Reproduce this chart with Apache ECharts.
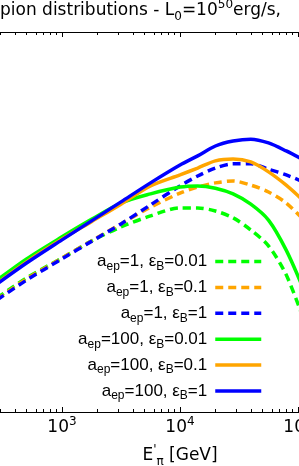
<!DOCTYPE html>
<html>
<head>
<meta charset="utf-8">
<script src="https://cdn.jsdelivr.net/npm/echarts@6/dist/echarts.min.js"></script>
<style>
html,body{margin:0;padding:0;background:#fff;}
#chart{width:299px;height:466px;}
</style>
</head>
<body>
<div id="chart"></div>
<script>
// Pion energy E'_pi [GeV]
const energy = [282, 501, 1000, 1778, 3162, 5623, 10000, 14125, 19953, 28184, 39811, 56234, 79433, 112202];
// Distributions (arbitrary log units)
const a1_eB001   = [3.00, 3.53, 4.05, 4.50, 4.87, 5.16, 5.37, 5.37, 5.29, 5.11, 4.79, 4.37, 3.61, 2.42];
const a1_eB01    = [2.97, 3.50, 4.05, 4.50, 4.95, 5.39, 5.76, 5.92, 6.03, 6.08, 5.97, 5.79, 5.50, 5.05];
const a1_eB1     = [2.95, 3.47, 4.03, 4.49, 4.95, 5.45, 5.95, 6.21, 6.42, 6.53, 6.53, 6.39, 6.24, 6.05];
const a100_eB001 = [3.47, 4.03, 4.61, 5.07, 5.50, 5.74, 5.92, 5.95, 5.89, 5.74, 5.47, 5.05, 4.26, 3.21];
const a100_eB01  = [3.39, 3.95, 4.55, 5.01, 5.47, 5.95, 6.24, 6.42, 6.61, 6.66, 6.58, 6.32, 5.97, 5.55];
const a100_eB1   = [3.37, 3.92, 4.53, 5.03, 5.53, 6.03, 6.50, 6.74, 7.00, 7.13, 7.18, 7.08, 6.87, 6.63];

const aepLabels = ['1', '1', '1', '100', '100', '100'];
const eBLabels  = ['0.01', '0.1', '1', '0.01', '0.1', '1'];
const seriesValues = [a1_eB001, a1_eB01, a1_eB1, a100_eB001, a100_eB01, a100_eB1];
const seriesColors = ['#00ff00', '#ffa500', '#0000ff', '#00ff00', '#ffa500', '#0000ff'];
const seriesDashed = [true, true, true, false, false, false];

const majorTicks = [1e2, 1e3, 1e4, 1e5, 1e6];
const minorTicks = [];
[1e2, 1e3, 1e4, 1e5].forEach(d => { for (let k = 2; k <= 9; k++) minorTicks.push(d * k); });

const titleText = '{t|pion distributions - L}{sb|0}{t|=10}{sp|50}{t|erg/s,}';

const chart = echarts.init(document.getElementById('chart'), null, {renderer: 'canvas'});

const names = aepLabels.map((a, i) => 'aep=' + a + ', eB=' + eBLabels[i]);

const series = seriesValues.map((vals, i) => ({
  name: names[i],
  type: 'line',
  xAxisIndex: 0,
  yAxisIndex: 0,
  symbol: 'none',
  smooth: 0.3,
  data: energy.map((e, j) => [e, vals[j]]),
  lineStyle: {color: seriesColors[i], width: 3.5, type: seriesDashed[i] ? [8, 5] : 'solid'},
  itemStyle: {color: seriesColors[i]},
  z: 2 + i,
  clip: true
}));

const axisBase = {
  type: 'log',
  logBase: 10,
  min: 1e2,
  max: 1e6,
  gridIndex: 0,
  splitLine: {show: false},
  minorTick: {show: false}
};

const F = {fontFamily: 'DejaVu Sans', color: '#000', fontWeight: 'normal'};
const labelRich = {
  b: Object.assign({}, F, {fontSize: 17, lineHeight: 24}),
  s: Object.assign({}, F, {fontSize: 12, lineHeight: 15, verticalAlign: 'top'})
};

const option = {
  animation: false,
  backgroundColor: '#fff',
  title: {
    text: titleText,
    left: 0,
    top: -1,
    padding: 0,
    textStyle: {
      fontWeight: 'normal',
      rich: {
        t: Object.assign({}, F, {fontSize: 17, lineHeight: 24}),
        sb: Object.assign({}, F, {fontSize: 12, lineHeight: 16, verticalAlign: 'bottom'}),
        sp: Object.assign({}, F, {fontSize: 12, lineHeight: 15, verticalAlign: 'top'})
      }
    }
  },
  legend: {
    orient: 'vertical',
    align: 'right',
    right: 36,
    top: 253,
    padding: 0,
    itemWidth: 46,
    itemHeight: 14,
    itemGap: 6.4,
    data: names,
    selectedMode: false,
    lineStyle: {width: 3.5},
    itemStyle: {opacity: 0},
    formatter: function (name) {
      const i = names.indexOf(name);
      return '{m|a}{s|ep}{m|=' + aepLabels[i] + ', ε}{s|B}{m|=' + eBLabels[i] + '}';
    },
    textStyle: {
      padding: [0, 3, 0, 0],
      rich: {
        m: {fontFamily: 'Liberation Sans', fontSize: 17, color: '#000', lineHeight: 22},
        s: {fontFamily: 'Liberation Sans', fontSize: 12, color: '#000', lineHeight: 14, verticalAlign: 'bottom'}
      }
    }
  },
  grid: {
    left: -56,
    right: -117,
    top: 32,
    bottom: 54,
    containLabel: false,
    outerBoundsMode: 'none'
  },
  xAxis: [
    Object.assign({}, axisBase, {
      position: 'bottom',
      axisLine: {show: true, onZero: false, lineStyle: {color: '#000', width: 1}},
      axisTick: {show: true, inside: true, length: 5, customValues: majorTicks, lineStyle: {color: '#000', width: 1}},
      axisLabel: {
        show: true, margin: 4, verticalAlign: 'top', customValues: majorTicks,
        formatter: function (v) { return '{b|10}{s|' + Math.round(Math.log10(v)) + '}'; },
        rich: labelRich
      },
      name: '{n|E}{p|\'}{q|π}{n| [GeV]}',
      nameLocation: 'middle',
      nameGap: 32,
      nameMoveOverlap: false,
      nameTextStyle: {
        rich: {
          n: Object.assign({}, F, {fontSize: 17, lineHeight: 24}),
          p: Object.assign({}, F, {fontSize: 12, lineHeight: 15, verticalAlign: 'top'}),
          q: Object.assign({}, F, {fontSize: 12, lineHeight: 16, verticalAlign: 'bottom'})
        }
      }
    }),
    Object.assign({}, axisBase, {
      position: 'bottom',
      axisLine: {show: false, onZero: false},
      axisTick: {show: true, inside: true, length: 3, customValues: minorTicks, lineStyle: {color: '#000', width: 1}},
      axisLabel: {show: false}
    }),
    Object.assign({}, axisBase, {
      position: 'top',
      axisLine: {show: true, onZero: false, lineStyle: {color: '#000', width: 1}},
      axisTick: {show: true, inside: true, length: 5, customValues: majorTicks, lineStyle: {color: '#000', width: 1}},
      axisLabel: {show: false}
    }),
    Object.assign({}, axisBase, {
      position: 'top',
      axisLine: {show: false, onZero: false},
      axisTick: {show: true, inside: true, length: 3, customValues: minorTicks, lineStyle: {color: '#000', width: 1}},
      axisLabel: {show: false}
    })
  ],
  yAxis: [{
    type: 'value',
    min: 0,
    max: 10,
    show: false,
    gridIndex: 0
  }],
  series: series
};

chart.setOption(option);
</script>
</body>
</html>
